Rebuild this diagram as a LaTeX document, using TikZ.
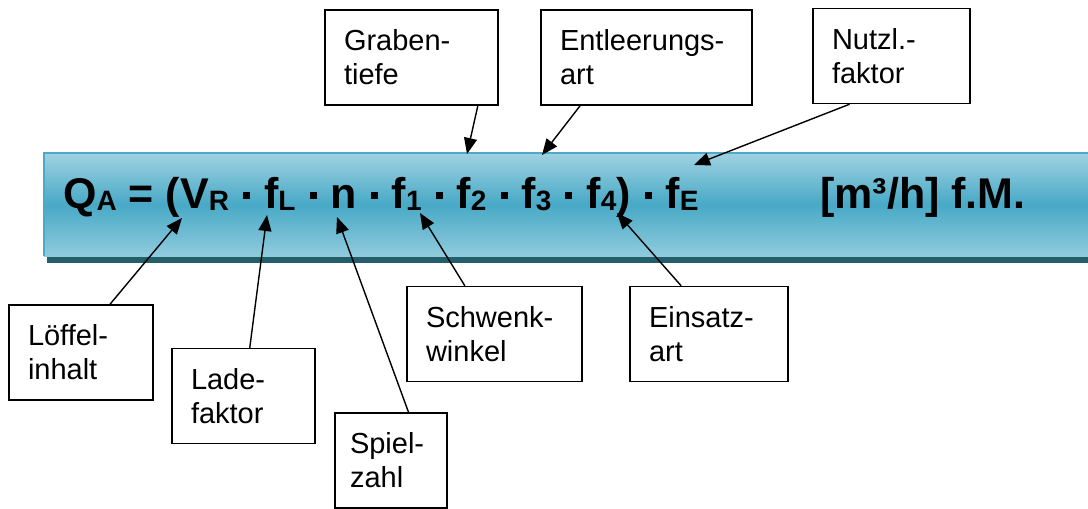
\documentclass[tikz,border=0pt]{standalone}
\usepackage{fontspec}
\setmainfont{Liberation Sans}
\usetikzlibrary{arrows.meta}

\definecolor{bandtop}{HTML}{9FD2E2}
\definecolor{bandmid}{HTML}{48A9C6}
\definecolor{bandlow}{HTML}{90CBDD}
\definecolor{bandrim}{HTML}{4DA9C5}
\definecolor{bandshadow}{HTML}{255E6B}

\newcommand{\lowtxt}[1]{\raisebox{-2pt}{\fontsize{28}{28}\selectfont #1}}
\newcommand{\sqdot}{\hspace{14pt}\rule[9pt]{7pt}{7pt}\hspace{14pt}}

\tikzset{
  lbl/.style={draw, line width=1.4pt, align=left, inner xsep=19pt,
    minimum height=95pt, text width=#1, font=\fontsize{29}{34}\selectfont},
  pointer/.style={line width=1.4pt, -{Triangle[length=16pt,width=13pt]}}
}

\begin{document}
\begin{tikzpicture}[x=1pt,y=-1pt]
  \clip (0,0) rectangle (1088,509);
  % Band with the formula
  \fill[bandshadow] (47,255) rectangle (1095,263);
  \shade[top color=bandtop, bottom color=bandlow, middle color=bandmid]
    (44,153) rectangle (1095,256);
  \draw[bandrim, line width=1.5pt] (1095,153) -- (44,153) -- (44,256);
  \node[anchor=base west, inner sep=0pt, font=\fontsize{43}{50}\selectfont\bfseries] (formula) at (63,208)
    {Q\lowtxt{A} = (V\lowtxt{R}\sqdot f\lowtxt{L}\sqdot n\sqdot f\lowtxt{1}\sqdot f\lowtxt{2}\sqdot f\lowtxt{3}\sqdot f\lowtxt{4})\sqdot f\lowtxt{E}};
  \node[anchor=base west, inner sep=0pt, font=\fontsize{43}{50}\selectfont\bfseries] (unit) at (820,208)
    {[m³/h] f.M.};
  % Arrow targets in the formula
  \coordinate (cV) at (182,218);
  \coordinate (cfL) at (267,215);
  \coordinate (cn) at (337,217);
  \coordinate (cfa) at (420,213);
  \coordinate (cfb) at (467,154);
  \coordinate (cfc) at (542,155);
  \coordinate (cfd) at (617,213);
  \coordinate (cfE) at (694,165);
  % Label boxes
  \node[lbl=106pt] (loeffel) at (81,352.5) {Löffel-\\inhalt};
  \node[lbl=105pt] (lade) at (243.5,396) {Lade-\\faktor};
  \node[lbl=82pt, inner xsep=15pt] (spiel) at (391,460.5) {Spiel-\\zahl};
  \node[lbl=137pt] (schwenk) at (494.5,334) {Schwenk-\\winkel};
  \node[lbl=120pt] (einsatz) at (709,334) {Einsatz-\\art};
  \node[lbl=135pt] (graben) at (411.5,57.5) {Graben-\\tiefe};
  \node[lbl=173pt] (entleer) at (646.5,57.5) {Entleerungs-\\art};
  \node[lbl=119pt] (nutzl) at (891.5,56) {Nutzl.-\\faktor};
  % Pointers
  \draw[pointer] (loeffel.59) -- (cV);
  \draw[pointer] (lade) -- (cfL);
  \draw[pointer] (spiel.70) -- (cn);
  \draw[pointer] (schwenk) -- (cfa);
  \draw[pointer] (einsatz.120) -- (cfd);
  \draw[pointer] (graben.-36) -- (cfb);
  \draw[pointer] (entleer.-144) -- (cfc);
  \draw[pointer] (nutzl.-131) -- (cfE);
\end{tikzpicture}
\end{document}
